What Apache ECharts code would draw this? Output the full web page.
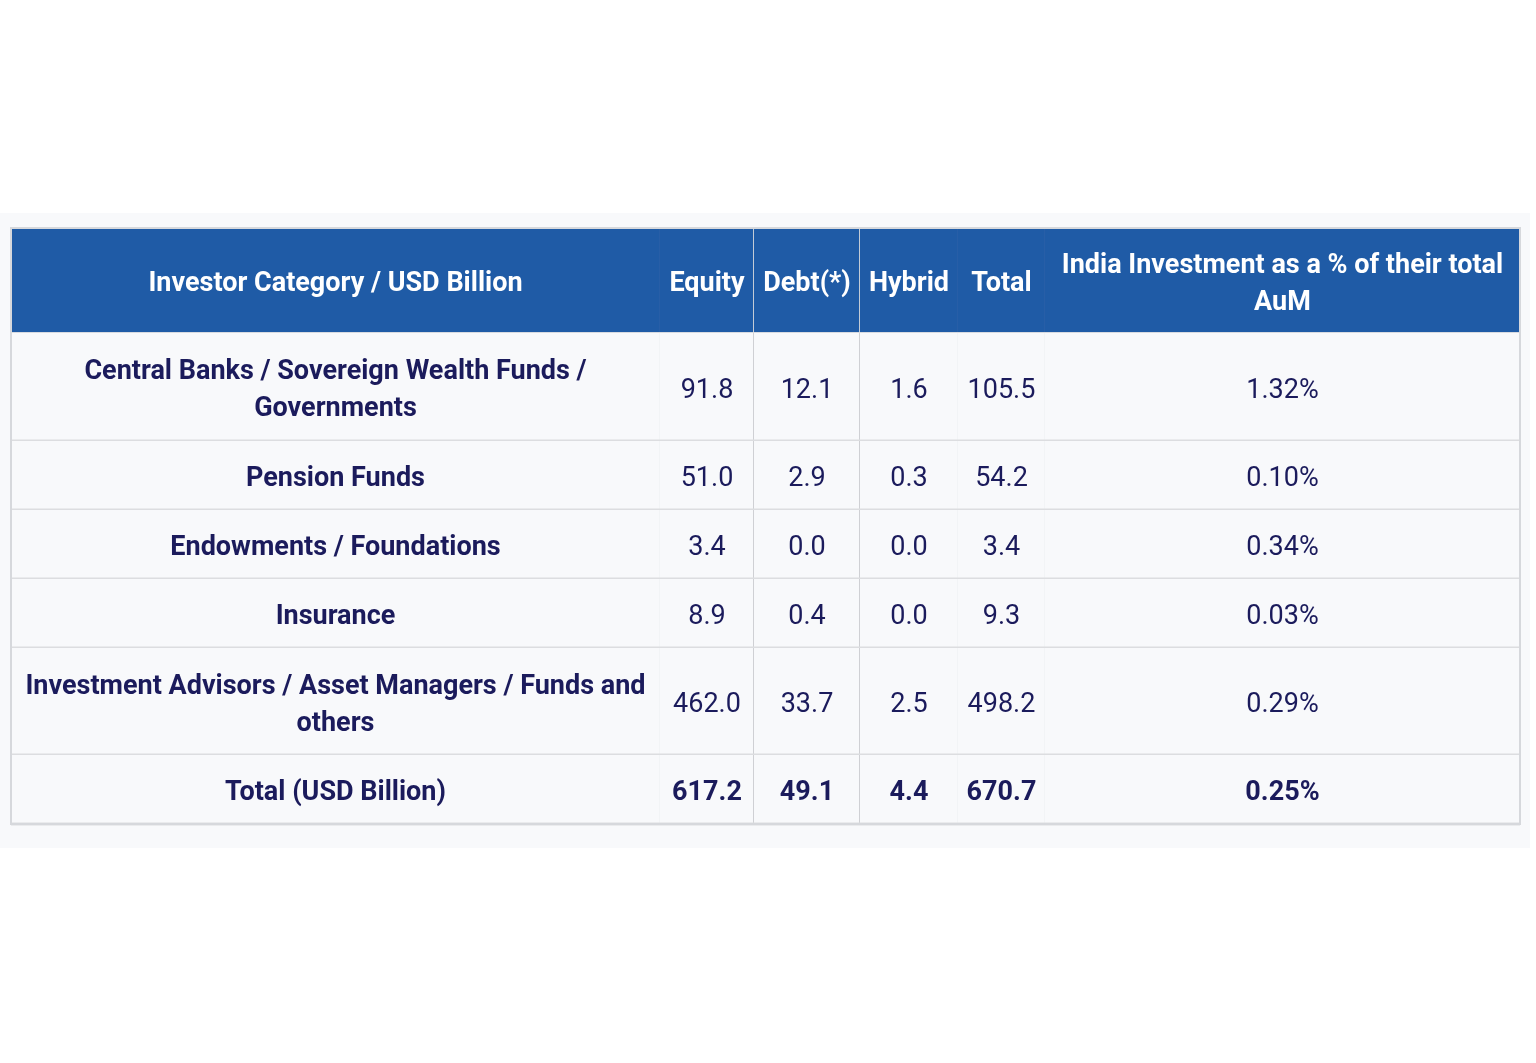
<!DOCTYPE html>
<html>
<head>
<meta charset="utf-8">
<script src="https://cdn.jsdelivr.net/npm/echarts@6/dist/echarts.min.js"></script>
<style>
  html, body { margin: 0; padding: 0; background: #ffffff; }
  #chart { width: 1536px; height: 1063px; }
</style>
</head>
<body>
<div id="chart"></div>
<script>
// table content
const columns = [
  "Investor Category / USD Billion",
  "Equity",
  "Debt(*)",
  "Hybrid",
  "Total",
  "India Investment as a % of their total\nAuM",
];
const categories = [
  "Central Banks / Sovereign Wealth Funds /\nGovernments",
  "Pension Funds",
  "Endowments / Foundations",
  "Insurance",
  "Investment Advisors / Asset Managers / Funds and\nothers",
];
const equity = [91.8, 51.0, 3.4, 8.9, 462.0];
const debt = [12.1, 2.9, 0.0, 0.4, 33.7];
const hybrid = [1.6, 0.3, 0.0, 0.0, 2.5];
const total = [105.5, 54.2, 3.4, 9.3, 498.2];
const indiaShare = [1.32, 0.10, 0.34, 0.03, 0.29];

const totalLabel = "Total (USD Billion)";
const grandTotals = [617.2, 49.1, 4.4, 670.7];
const grandShare = 0.25;

// layout (grid units = pixels inside the table)
const colEdges = [0, 649, 743, 849, 947, 1034, 1509];
const rowEdges = [0, 105, 213, 282, 351, 420, 527, 596];

const headerBlue = "#1f5ba6";
const navy = "#1b1b5c";

// build the cell list from the arrays
const cells = [];
columns.forEach((name, c) => {
  cells.push({ col: c, row: 0, text: name, kind: "header" });
});
categories.forEach((name, i) => {
  const r = i + 1;
  cells.push({ col: 0, row: r, text: name, kind: "label" });
  [equity[i], debt[i], hybrid[i], total[i]].forEach((v, k) => {
    cells.push({ col: k + 1, row: r, text: v.toFixed(1), kind: "value" });
  });
  cells.push({ col: 5, row: r, text: indiaShare[i].toFixed(2) + "%", kind: "value" });
});
const lastRow = categories.length + 1;
cells.push({ col: 0, row: lastRow, text: totalLabel, kind: "total" });
grandTotals.forEach((v, k) => {
  cells.push({ col: k + 1, row: lastRow, text: v.toFixed(1), kind: "total" });
});
cells.push({ col: 5, row: lastRow, text: grandShare.toFixed(2) + "%", kind: "total" });

function renderCell(params, api) {
  const cell = cells[params.dataIndex];
  const c = api.value(0);
  const r = api.value(1);
  const p0 = api.coord([colEdges[c], rowEdges[r]]);
  const p1 = api.coord([colEdges[c + 1], rowEdges[r + 1]]);
  const isHeader = cell.kind === "header";
  const strongDivider = c === 1 || c === 2;

  const children = [
    {
      type: "rect",
      shape: { x: p0[0], y: p0[1], width: p1[0] - p0[0], height: p1[1] - p0[1] },
      style: { fill: isHeader ? headerBlue : "#f8f9fb" },
    },
  ];

  // right divider
  if (c < columns.length - 1) {
    children.push({
      type: "line",
      shape: { x1: p1[0], y1: p0[1], x2: p1[0], y2: p1[1] },
      style: {
        stroke: strongDivider
          ? isHeader ? "#c3cbd6" : "#cfd0d4"
          : isHeader ? "#3163a8" : "#eceef1",
        lineWidth: strongDivider ? 2 : 1,
      },
    });
  }
  // bottom divider
  children.push({
    type: "line",
    shape: { x1: p0[0], y1: p1[1], x2: p1[0], y2: p1[1] },
    style: { stroke: isHeader ? "#d8dbe0" : "#dcdde0", lineWidth: isHeader ? 2 : 3 },
  });

  const bold = cell.kind !== "value";
  children.push({
    type: "text",
    x: (p0[0] + p1[0]) / 2,
    y: (p0[1] + p1[1]) / 2 + 4,
    style: {
      text: cell.text,
      x: 0,
      y: 0,
      align: "center",
      verticalAlign: "middle",
      fill: isHeader ? "#ffffff" : navy,
      fontFamily: "Roboto",
      fontSize: 27,
      fontWeight: bold ? "bold" : "normal",
      lineHeight: 37,
    },
  });

  return { type: "group", children };
}

const chart = echarts.init(document.getElementById("chart"));

chart.setOption({
  animation: false,
  backgroundColor: "#ffffff",
  graphic: [
    {
      type: "rect",
      left: 0,
      top: 213,
      shape: { width: 1530, height: 635 },
      style: { fill: "#f8f9fb" },
      z: -10,
    },
  ],
  grid: { left: 11, top: 228, width: 1509, height: 596 },
  xAxis: { type: "value", min: 0, max: 1509, show: false },
  yAxis: { type: "value", min: 0, max: 596, inverse: true, show: false },
  series: [
    {
      type: "custom",
      silent: true,
      renderItem: renderCell,
      data: cells.map((cell) => [cell.col, cell.row]),
    },
    {
      // outer border of the table
      type: "custom",
      silent: true,
      renderItem: (params, api) => {
        const p0 = api.coord([colEdges[0], rowEdges[0]]);
        const p1 = api.coord([colEdges[colEdges.length - 1], rowEdges[rowEdges.length - 1]]);
        return {
          type: "rect",
          shape: { x: p0[0], y: p0[1], width: p1[0] - p0[0], height: p1[1] - p0[1] },
          style: { fill: "none", stroke: "#d6d8dc", lineWidth: 2 },
        };
      },
      data: [[0, 0]],
      z: 5,
    },
  ],
});
</script>
</body>
</html>
